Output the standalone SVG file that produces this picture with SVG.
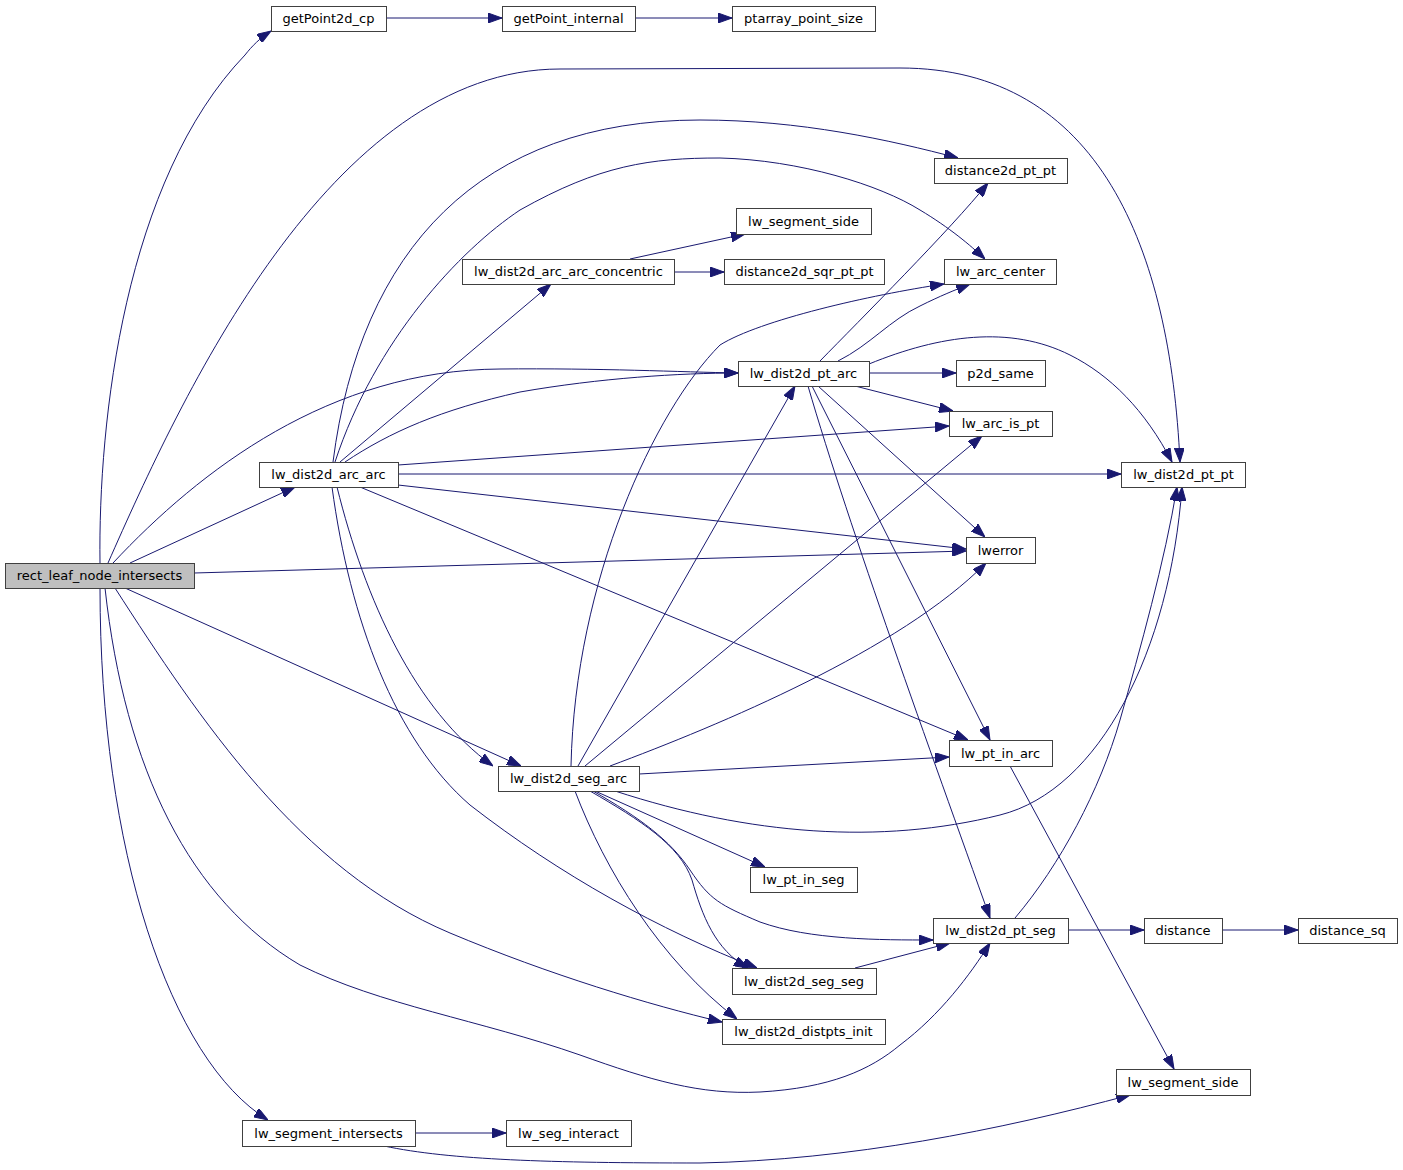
<svg xmlns="http://www.w3.org/2000/svg" width="1403" height="1170" viewBox="0 0 1403 1170">
<style>
.n rect{fill:#ffffff;stroke:#404040;stroke-width:1}
.n.root rect{fill:#bfbfbf}
.n text{font-family:"DejaVu Sans","Liberation Sans",sans-serif;font-size:13px;fill:#000000;text-anchor:middle}
.e path{fill:none;stroke:#191970;stroke-width:1;marker-end:url(#arr)}
</style>
<defs>
<marker id="arr" viewBox="0 0 14 10" markerWidth="14" markerHeight="10" refX="14" refY="5" orient="auto" markerUnits="userSpaceOnUse">
<path d="M0,0 L14,5 L0,10 z" fill="#191970" stroke="#191970" stroke-width="1"/>
</marker>
</defs>
<rect width="1403" height="1170" fill="#ffffff"/>
<g id="edges" class="e">
<path d="M100,563 C98,420 125,180 245,55 C252,46 260,38 271,31"/>
<path d="M108,563 C180,400 330,69 560,69 L900,68 C1100,68 1170,250 1180,462"/>
<path d="M130,563 L295,487"/>
<path d="M113,563 C200,470 330,370 500,369 C600,368 680,372 738,373"/>
<path d="M194,573 L966,551"/>
<path d="M125,588 L521,766"/>
<path d="M105,588 C125,770 190,900 300,965 C380,1005 480,1020 580,1055 C650,1080 700,1095 760,1092 C830,1088 870,1070 900,1045 C940,1015 970,975 990,943"/>
<path d="M115,588 C200,720 300,870 450,933 C550,975 650,1005 722,1022"/>
<path d="M100,588 C100,850 170,1060 268,1120"/>
<path d="M333,462 C360,250 480,120 700,120 C800,120 890,140 958,158"/>
<path d="M335,462 C375,340 460,250 520,210 C600,165 650,158 720,158 C800,160 880,185 920,210 C950,228 970,245 985,259"/>
<path d="M340,462 L551,284"/>
<path d="M345,462 C390,432 440,410 520,392 C600,378 680,373 738,373"/>
<path d="M398,465 L949,426"/>
<path d="M398,474 L1121,474"/>
<path d="M398,485 L966,549"/>
<path d="M360,487 L968,740"/>
<path d="M337,487 C365,600 415,710 493,766"/>
<path d="M332,487 C350,620 395,740 470,805 C560,875 660,930 757,968"/>
<path d="M820,361 C860,320 950,230 988,183"/>
<path d="M838,361 C870,345 890,320 920,306 C940,296 955,290 970,284"/>
<path d="M869,364 C940,335 1010,325 1070,355 C1110,375 1145,410 1172,462"/>
<path d="M869,373 L956,373"/>
<path d="M855,386 L953,411"/>
<path d="M818,386 L985,537"/>
<path d="M812,386 L990,740"/>
<path d="M808,386 C850,530 930,750 990,918"/>
<path d="M571,766 C575,580 655,410 720,345 C760,320 870,295 944,284"/>
<path d="M578,766 L795,386"/>
<path d="M585,766 L982,436"/>
<path d="M610,766 C720,725 900,650 986,563"/>
<path d="M639,774 L949,757"/>
<path d="M615,791 C750,835 880,845 1000,815 C1100,790 1170,650 1182,487"/>
<path d="M595,791 L765,867"/>
<path d="M593,791 C640,818 670,840 690,870 C710,900 720,905 760,922 C810,940 880,940 933,940"/>
<path d="M590,791 C640,820 680,845 692,880 C702,915 715,950 748,968"/>
<path d="M575,791 C605,870 660,960 737,1019"/>
<path d="M855,968 L950,943"/>
<path d="M1015,918 C1060,865 1100,790 1120,720 C1140,650 1165,560 1177,487"/>
<path d="M1068,930 L1144,930"/>
<path d="M1222,930 L1298,930"/>
<path d="M1010,766 L1174,1069"/>
<path d="M415,1133 L506,1133"/>
<path d="M384,1146 C450,1160 550,1163 700,1163 C850,1160 1000,1130 1130,1095"/>
<path d="M386,18 L502,18"/>
<path d="M635,18 L732,18"/>
<path d="M630,259 L745,234"/>
<path d="M674,272 L724,272"/>
</g>
<g id="n_rect_leaf_node_intersects" class="n root"><rect x="5.5" y="563.5" width="189" height="25"/><text x="99.5" y="580">rect_leaf_node_intersects</text></g>
<g id="n_getPoint2d_cp" class="n"><rect x="271.5" y="6.5" width="115" height="25"/><text x="328.5" y="23">getPoint2d_cp</text></g>
<g id="n_getPoint_internal" class="n"><rect x="502.5" y="6.5" width="133" height="25"/><text x="568.5" y="23">getPoint_internal</text></g>
<g id="n_ptarray_point_size" class="n"><rect x="732.5" y="6.5" width="143" height="25"/><text x="803.5" y="23">ptarray_point_size</text></g>
<g id="n_distance2d_pt_pt" class="n"><rect x="934.5" y="158.5" width="133" height="25"/><text x="1000.5" y="175">distance2d_pt_pt</text></g>
<g id="n_lw_segment_side_1" class="n"><rect x="736.5" y="208.5" width="135" height="26"/><text x="803.5" y="225.5">lw_segment_side</text></g>
<g id="n_lw_dist2d_arc_arc_concentric" class="n"><rect x="462.5" y="259.5" width="212" height="25"/><text x="568.5" y="276">lw_dist2d_arc_arc_concentric</text></g>
<g id="n_distance2d_sqr_pt_pt" class="n"><rect x="724.5" y="259.5" width="160" height="25"/><text x="804.5" y="276">distance2d_sqr_pt_pt</text></g>
<g id="n_lw_arc_center" class="n"><rect x="944.5" y="259.5" width="112" height="25"/><text x="1000.5" y="276">lw_arc_center</text></g>
<g id="n_lw_dist2d_pt_arc" class="n"><rect x="738.5" y="361.5" width="131" height="25"/><text x="803.5" y="378">lw_dist2d_pt_arc</text></g>
<g id="n_p2d_same" class="n"><rect x="956.5" y="360.5" width="89" height="26"/><text x="1000.5" y="378">p2d_same</text></g>
<g id="n_lw_arc_is_pt" class="n"><rect x="949.5" y="411.5" width="103" height="25"/><text x="1000.5" y="428">lw_arc_is_pt</text></g>
<g id="n_lw_dist2d_arc_arc" class="n"><rect x="259.5" y="462.5" width="139" height="25"/><text x="328.5" y="479">lw_dist2d_arc_arc</text></g>
<g id="n_lw_dist2d_pt_pt" class="n"><rect x="1121.5" y="462.5" width="124" height="25"/><text x="1183.5" y="479">lw_dist2d_pt_pt</text></g>
<g id="n_lwerror" class="n"><rect x="966.5" y="537.5" width="69" height="26"/><text x="1000.5" y="555">lwerror</text></g>
<g id="n_lw_pt_in_arc" class="n"><rect x="949.5" y="740.5" width="103" height="26"/><text x="1000.5" y="758">lw_pt_in_arc</text></g>
<g id="n_lw_dist2d_seg_arc" class="n"><rect x="498.5" y="766.5" width="141" height="25"/><text x="568.5" y="783">lw_dist2d_seg_arc</text></g>
<g id="n_lw_pt_in_seg" class="n"><rect x="750.5" y="867.5" width="107" height="25"/><text x="803.5" y="884">lw_pt_in_seg</text></g>
<g id="n_lw_dist2d_pt_seg" class="n"><rect x="933.5" y="918.5" width="135" height="25"/><text x="1000.5" y="935">lw_dist2d_pt_seg</text></g>
<g id="n_distance" class="n"><rect x="1144.5" y="918.5" width="78" height="25"/><text x="1183" y="935">distance</text></g>
<g id="n_distance_sq" class="n"><rect x="1298.5" y="918.5" width="99" height="25"/><text x="1347.5" y="935">distance_sq</text></g>
<g id="n_lw_dist2d_seg_seg" class="n"><rect x="732.5" y="968.5" width="144" height="26"/><text x="804" y="986">lw_dist2d_seg_seg</text></g>
<g id="n_lw_dist2d_distpts_init" class="n"><rect x="722.5" y="1019.5" width="163" height="25"/><text x="803.5" y="1036">lw_dist2d_distpts_init</text></g>
<g id="n_lw_segment_side_2" class="n"><rect x="1116.5" y="1069.5" width="134" height="26"/><text x="1183" y="1087">lw_segment_side</text></g>
<g id="n_lw_segment_intersects" class="n"><rect x="242.5" y="1120.5" width="173" height="26"/><text x="328.5" y="1138">lw_segment_intersects</text></g>
<g id="n_lw_seg_interact" class="n"><rect x="506.5" y="1120.5" width="125" height="26"/><text x="568.5" y="1138">lw_seg_interact</text></g>
</svg>
